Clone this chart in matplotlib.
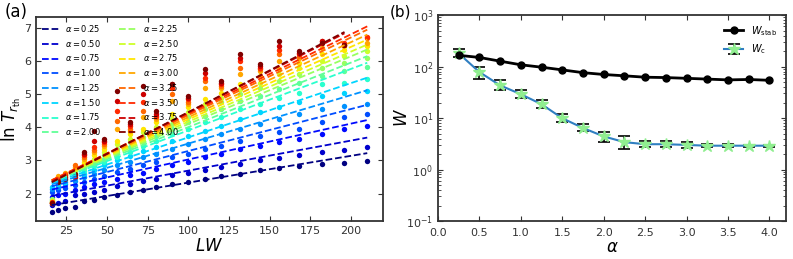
import numpy as np
import matplotlib.pyplot as plt
from matplotlib import cm

# ---- panel (a) data: ln T_rth vs LW for each alpha ----
alphas = [0.25, 0.50, 0.75, 1.00, 1.25, 1.50, 1.75, 2.00,
          2.25, 2.50, 2.75, 3.00, 3.25, 3.50, 3.75, 4.00]
lw = [16, 20, 24, 30, 36, 42, 48, 56, 64, 72, 80,
      90, 100, 110, 120, 132, 144, 156, 168, 182, 196, 210]

lnT = [
    [1.45, 1.50, 1.55, 1.60, 1.78, 1.80, 1.90, 1.95, 2.05, 2.10, 2.20, 2.28, 2.35, 2.45, 2.52, 2.60, 2.72, 2.78, 2.82, 2.88, 2.92, 2.98],
    [1.65, 1.72, 1.78, 1.95, 1.98, 2.05, 2.10, 2.22, 2.30, 2.38, 2.45, 2.55, 2.62, 2.72, 2.80, 2.90, 3.00, 3.08, 3.15, 3.25, 3.32, 3.40],
    [1.90, 1.95, 2.00, 2.10, 2.20, 2.28, 2.35, 2.45, 2.55, 2.62, 2.75, 2.85, 2.95, 3.10, 3.20, 3.35, 3.45, 3.55, 3.65, 3.80, 3.95, 4.05],
    [2.05, 2.12, 2.18, 2.25, 2.35, 2.45, 2.52, 2.65, 2.75, 2.85, 2.95, 3.10, 3.20, 3.35, 3.45, 3.60, 3.75, 3.85, 3.95, 4.15, 4.30, 4.40],
    [2.15, 2.20, 2.28, 2.38, 2.50, 2.60, 2.70, 2.85, 2.95, 3.10, 3.20, 3.35, 3.50, 3.65, 3.80, 3.95, 4.10, 4.25, 4.40, 4.55, 4.65, 4.70],
    [2.20, 2.28, 2.35, 2.48, 2.60, 2.72, 2.85, 3.00, 3.12, 3.28, 3.40, 3.60, 3.75, 3.90, 4.05, 4.25, 4.45, 4.60, 4.75, 4.95, 5.05, 5.10],
    [1.75, 2.35, 2.42, 2.55, 2.68, 2.82, 2.95, 3.10, 3.25, 3.45, 3.60, 3.80, 3.95, 4.15, 4.30, 4.55, 4.70, 4.90, 5.05, 5.30, 5.35, 5.45],
    [1.80, 2.40, 2.48, 2.62, 2.78, 2.92, 3.05, 3.25, 3.40, 3.60, 3.75, 3.95, 4.15, 4.35, 4.55, 4.80, 4.95, 5.15, 5.35, 5.55, 5.70, 5.82],
    [1.82, 2.45, 2.52, 2.68, 2.85, 3.00, 3.15, 3.35, 3.55, 3.72, 3.90, 4.10, 4.30, 4.55, 4.75, 5.00, 5.20, 5.40, 5.60, 5.80, 5.95, 6.10],
    [1.75, 2.48, 2.55, 2.72, 2.90, 3.05, 3.25, 3.50, 3.65, 3.85, 4.00, 4.25, 4.45, 4.70, 4.90, 5.15, 5.35, 5.60, 5.80, 6.00, 6.15, 6.30],
    [1.78, 2.50, 2.58, 2.78, 2.95, 3.15, 3.35, 3.60, 3.80, 3.95, 4.15, 4.40, 4.60, 4.85, 5.05, 5.30, 5.55, 5.75, 5.95, 6.20, 6.35, 6.45],
    [1.72, 2.52, 2.62, 2.80, 3.05, 3.25, 3.45, 3.95, 3.90, 4.30, 4.25, 4.80, 4.70, 5.20, 5.20, 5.60, 5.70, 6.00, 6.10, 6.40, 6.45, 6.55],
    [1.70, 2.45, 2.60, 2.85, 3.10, 3.30, 3.50, 4.20, 3.95, 4.50, 4.30, 5.00, 4.75, 5.40, 5.25, 5.80, 5.75, 6.20, 6.15, 6.55, 6.50, 6.70],
    [1.75, 2.40, 2.55, 2.55, 3.15, 3.40, 3.55, 4.50, 4.05, 4.75, 4.35, 5.20, 4.85, 5.50, 5.30, 6.00, 5.80, 6.35, 6.20, 6.60, 6.55, 6.72],
    [1.72, 2.38, 2.50, 2.50, 3.20, 3.60, 3.60, 4.80, 4.10, 5.00, 4.40, 5.30, 4.90, 5.65, 5.35, 6.10, 5.85, 6.45, 6.25, 6.60, 6.50, np.nan],
    [1.70, 2.35, 2.45, 2.60, 3.25, 3.90, 3.65, 5.10, 4.15, 5.25, 4.50, 5.30, 4.95, 5.75, 5.40, 6.20, 5.90, 6.60, 6.30, 6.55, 6.50, np.nan],
]

# dashed fit lines: start / end LW and ln T at both ends
fit_x0 = [16] * 16
fit_x1 = [210] * 14 + [196, 196]
fit_y0 = [1.65, 1.93, 2.12, 2.22, 2.28, 2.32, 2.35, 2.37,
          2.38, 2.39, 2.40, 2.40, 2.40, 2.40, 2.36, 2.34]
fit_y1 = [3.22, 3.69, 4.22, 4.68, 5.12, 5.50, 5.95, 6.15,
          6.35, 6.50, 6.65, 6.80, 6.95, 7.05, 6.84, 6.88]

# ---- panel (b) data ----
alpha_b = [0.25, 0.50, 0.75, 1.00, 1.25, 1.50, 1.75, 2.00,
           2.25, 2.50, 2.75, 3.00, 3.25, 3.50, 3.75, 4.00]
w_stab = [165, 150, 127, 108, 97, 86, 76, 70, 66, 62, 61, 59, 57, 55, 56, 54]
w_c = [180, 78, 43, 29, 18.5, 9.9, 6.4, 4.4, 3.4, 3.1, 3.1, 3.0, 2.9, 2.9, 2.9, 2.9]
w_c_lo = [150, 58, 35, 24, 16, 8.2, 5.5, 3.4, 2.45, 2.7, 2.7, 2.65, 2.7, 2.7, 2.75, 2.75]
w_c_hi = [220, 100, 55, 35, 22, 12, 7.5, 5.4, 4.4, 3.5, 3.5, 3.35, 3.1, 3.1, 3.05, 3.05]

edge = "#333333"
plt.rcParams.update({
    "xtick.direction": "in", "ytick.direction": "in",
    "xtick.top": True, "ytick.right": True,
    "xtick.labelsize": 8, "ytick.labelsize": 8,
    "axes.edgecolor": edge, "axes.linewidth": 1.3,
    "xtick.color": edge, "ytick.color": edge,
})

fig = plt.figure(figsize=(7.93, 2.59), dpi=100)
ax1 = fig.add_axes([0.0454, 0.1467, 0.4376, 0.7873])
ax2 = fig.add_axes([0.5523, 0.1467, 0.4388, 0.7953])

colors = cm.jet(np.linspace(0, 1, len(alphas)))
for i, a in enumerate(alphas):
    ax1.scatter(lw, lnT[i], s=15, color=colors[i], zorder=2, linewidths=0)
for i, a in enumerate(alphas):
    ax1.plot([fit_x0[i], fit_x1[i]], [fit_y0[i], fit_y1[i]], "--",
             color=colors[i], lw=1.3, zorder=3, label=rf"$\alpha={a:.2f}$")
ax1.set_xticks([25, 50, 75, 100, 125, 150, 175, 200])
ax1.set_yticks([2, 3, 4, 5, 6, 7])
ax1.set_xlabel(r"$LW$", fontsize=12, labelpad=1)
ax1.set_ylabel(r"$\ln\,T_{r_{\rm th}}$", fontsize=12)
ax1.yaxis.set_label_coords(-0.038, 0.5)
ax1.legend(loc="upper left", ncol=2, fontsize=6, frameon=False,
           handlelength=2.0, labelspacing=0.45, columnspacing=2.2,
           borderaxespad=0.3)

ax2.errorbar(alpha_b, w_c,
             yerr=[np.subtract(w_c, w_c_lo), np.subtract(w_c_hi, w_c)],
             fmt="-*", color="#2f7fc1", mfc="#90ee90", mec="#90ee90",
             ms=9, lw=1.5, ecolor="black", elinewidth=1.2, capsize=4,
             capthick=1.2, label=r"$W_{\rm c}$", zorder=2)
ax2.plot(alpha_b, w_stab, "-o", color="black", ms=5, lw=2,
         label=r"$W_{\rm stab}$", zorder=3)
ax2.set_yscale("log")
ax2.set_ylim(0.1, 1000)
ax2.set_xlim(0, 4.2)
ax2.set_xticks(np.arange(0, 4.01, 0.5))
ax2.tick_params(axis="x", pad=5)
ax2.set_xlabel(r"$\alpha$", fontsize=12, labelpad=0)
ax2.set_ylabel(r"$W$", fontsize=12)
ax2.yaxis.set_label_coords(-0.078, 0.5)
ax2.legend(loc="upper right", fontsize=7, frameon=False)

fig.text(0.006, 0.955, "(a)", fontsize=12, va="center")
fig.text(0.492, 0.955, "(b)", fontsize=11, va="center")

fig.savefig("out.png", dpi=100)
